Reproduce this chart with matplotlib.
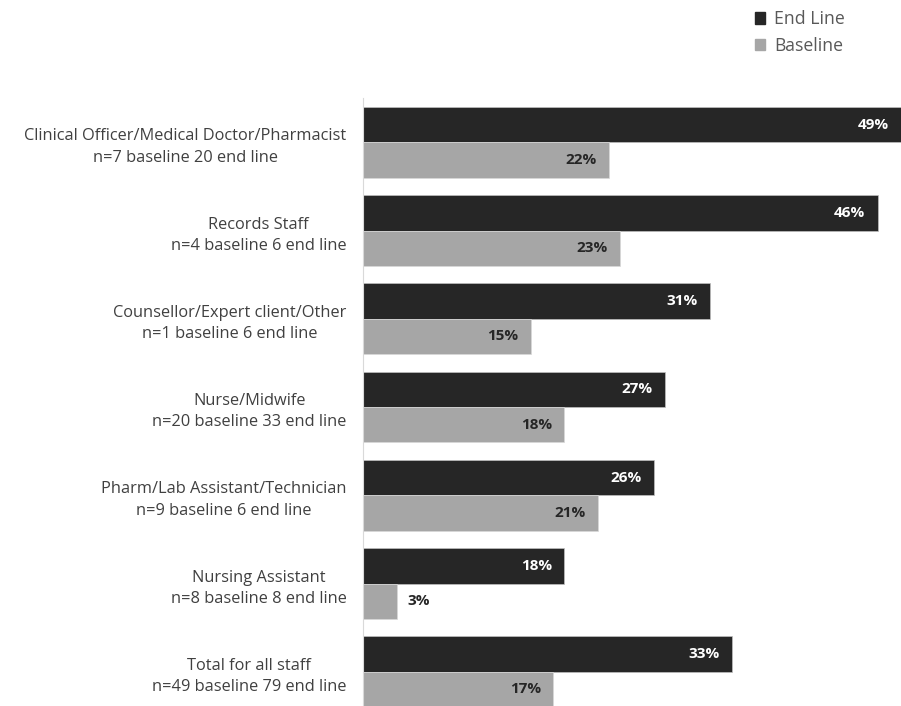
import matplotlib.pyplot as plt
from matplotlib.patches import Patch

plt.rcParams['font.family'] = ['Open Sans', 'DejaVu Sans']

categories = [
    'Clinical Officer/Medical Doctor/Pharmacist\nn=7 baseline 20 end line',
    'Records Staff\nn=4 baseline 6 end line',
    'Counsellor/Expert client/Other\nn=1 baseline 6 end line',
    'Nurse/Midwife\nn=20 baseline 33 end line',
    'Pharm/Lab Assistant/Technician\nn=9 baseline 6 end line',
    'Nursing Assistant\nn=8 baseline 8 end line',
    'Total for all staff\nn=49 baseline 79 end line',
]
end_line = [49, 46, 31, 27, 26, 18, 33]
baseline = [22, 23, 15, 18, 21, 3, 17]

DARK = '#262626'
LIGHT = '#a6a6a6'
XMAX = 48.1

fig = plt.figure(figsize=(9.01, 7.06), dpi=100)
ax = fig.add_axes([0.403, -0.014, 0.597, 0.875])

y = list(range(len(categories)))
h = 0.4
ax.barh([i - h / 2 for i in y], end_line, height=h, color=DARK, edgecolor='#bfbfbf', linewidth=0.5)
ax.barh([i + h / 2 for i in y], baseline, height=h, color=LIGHT, edgecolor='#d9d9d9', linewidth=0.5)

for i, v in enumerate(end_line):
    ax.text(min(v, XMAX) - 1.1, i - h / 2, f'{v}%', ha='right', va='center',
            color='white', fontsize=11, fontweight='bold')
for i, v in enumerate(baseline):
    if v < 5:
        ax.text(v + 1.0, i + h / 2, f'{v}%', ha='left', va='center',
                color='#262626', fontsize=11, fontweight='bold')
    else:
        ax.text(v - 1.1, i + h / 2, f'{v}%', ha='right', va='center',
                color='#262626', fontsize=11, fontweight='bold')

ax.set_xlim(0, XMAX)
ax.set_ylim(len(categories) - 0.5, -0.5)
ax.set_yticks(y)
ax.set_yticklabels(categories, fontsize=11.8, color='#404040', multialignment='center',
                   linespacing=1.45)
ax.tick_params(axis='y', length=0, pad=12)
ax.set_xticks([])
for s in ['top', 'right', 'bottom']:
    ax.spines[s].set_visible(False)
ax.spines['left'].set_color('#d9d9d9')

handles = [Patch(color=DARK, label='End Line'), Patch(color=LIGHT, label='Baseline')]
fig.legend(handles=handles, loc='upper left', bbox_to_anchor=(0.82, 1.008), frameon=False,
           fontsize=12.7, labelcolor='#595959', handlelength=0.6, handleheight=0.6,
           handletextpad=0.5, labelspacing=0.5)

fig.savefig('out.png', dpi=100)
